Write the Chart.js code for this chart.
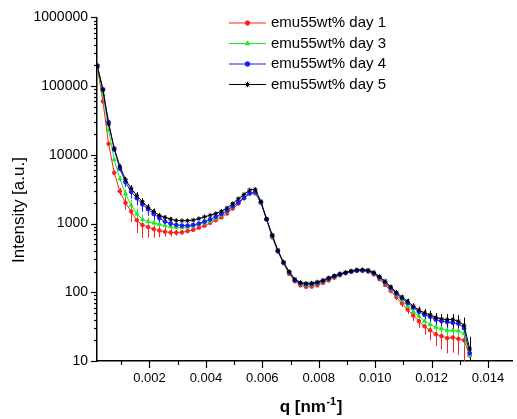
<!DOCTYPE html>
<html><head><meta charset="utf-8">
<script src="https://cdn.jsdelivr.net/npm/chart.js@4.4.0/dist/chart.umd.min.js"></script>
<style>html,body{margin:0;padding:0;background:#fff;}canvas{display:block;}</style>
</head><body>
<canvas id="c" width="517" height="419"></canvas>
<script>
// ---- data ----
const q = [0.00015,0.00035,0.00055,0.00075,0.00095,0.00115,0.00135,0.00155,0.00175,0.00195,
  0.00215,0.00235,0.00255,0.00275,0.00295,0.00315,0.00335,0.00355,0.00375,0.00395,
  0.00415,0.00435,0.00455,0.00475,0.00495,0.00515,0.00535,0.00555,0.00575,0.00595,
  0.00615,0.00635,0.00655,0.00675,0.00695,0.00715,0.00735,0.00755,0.00775,0.00795,
  0.00815,0.00835,0.00855,0.00875,0.00895,0.00915,0.00935,0.00955,0.00975,0.00995,
  0.01015,0.01035,0.01055,0.01075,0.01095,0.01115,0.01135,0.01155,0.01175,0.01195,
  0.01215,0.01235,0.01255,0.01275,0.01295,0.01315,0.01335];
const day1 = [190000,60000,14500,5500,2950,2000,1500,1120,950,890,
  830,790,760,740,740,745,775,810,870,930,
  1020,1120,1230,1400,1650,1950,2350,2750,2750,2000,
  1150,630,390,265,185,145,126,120,121,126,
  137,149,163,177,190,200,205,205,200,182,
  155,128,105,85,69,56,46,38,32,28,
  24.5,23,21.5,22,21,20,12];
const day3 = [190000,76000,23000,8500,4500,2700,1850,1380,1150,1070,
  1020,980,930,900,880,870,890,920,980,1020,
  1070,1200,1320,1500,1750,2040,2400,2800,2820,2000,
  1150,650,400,270,193,150,131,126,127,132,
  143,155,167,180,192,200,208,208,203,187,
  162,135,112,92,76,63,52,45,38,34,
  31,29.5,28,28,27.5,25,12];
const day4 = [200000,90000,30000,12000,6300,4000,2900,2350,1900,1620,
  1380,1200,1070,1000,955,935,935,955,1000,1070,
  1150,1260,1380,1550,1780,2040,2350,2750,2880,2050,
  1150,670,400,270,196,150,135,131,132,137,
  146,158,170,182,191,200,207,208,204,190,
  165,140,116,96,82,70,60,52,47,44,
  40,38,37,36,35,30,13];
const day5 = [195000,88000,28000,12500,6800,4350,3250,2550,2080,1730,
  1500,1310,1230,1160,1110,1100,1100,1120,1180,1250,
  1320,1400,1510,1690,1950,2300,2650,3080,3150,2100,
  1170,680,410,275,200,155,139,135,136,141,
  150,162,174,186,195,204,212,213,210,195,
  170,145,120,100,85,74,63,55,50,47,
  43,41,40,40,38,33,15];
// relative error (fraction of the value) of each point
const err1 = [0.03,0.03,0.05,0.08,0.12,0.2,0.3,0.35,0.35,0.3,
  0.25,0.2,0.15,0.12,0.1,0.08,0.06,0.05,0.04,0.04,
  0.03,0.03,0.03,0.03,0.03,0.03,0.03,0.03,0.03,0.03,
  0.03,0.03,0.03,0.03,0.03,0.04,0.04,0.05,0.05,0.05,
  0.05,0.05,0.05,0.05,0.05,0.05,0.05,0.05,0.05,0.05,
  0.06,0.07,0.08,0.1,0.12,0.14,0.17,0.2,0.24,0.28,
  0.32,0.36,0.4,0.4,0.42,0.5,0.6];
const err3 = [0.03,0.03,0.04,0.06,0.1,0.15,0.2,0.2,0.18,0.15,
  0.12,0.1,0.08,0.07,0.06,0.05,0.04,0.04,0.03,0.03,
  0.03,0.03,0.03,0.03,0.03,0.03,0.03,0.03,0.03,0.03,
  0.03,0.03,0.03,0.03,0.03,0.03,0.04,0.04,0.04,0.04,
  0.04,0.04,0.04,0.04,0.04,0.04,0.04,0.04,0.04,0.04,
  0.05,0.06,0.07,0.08,0.1,0.12,0.14,0.16,0.18,0.2,
  0.22,0.24,0.25,0.26,0.28,0.35,0.5];
const err4 = [0.03,0.03,0.04,0.06,0.1,0.15,0.2,0.22,0.22,0.2,
  0.18,0.15,0.12,0.1,0.08,0.06,0.05,0.04,0.03,0.03,
  0.03,0.03,0.03,0.03,0.03,0.03,0.03,0.03,0.03,0.03,
  0.03,0.03,0.03,0.03,0.03,0.03,0.03,0.03,0.03,0.03,
  0.04,0.04,0.04,0.04,0.04,0.04,0.04,0.04,0.04,0.04,
  0.04,0.05,0.06,0.07,0.08,0.09,0.1,0.12,0.14,0.15,
  0.16,0.18,0.2,0.2,0.22,0.3,0.5];
const err5 = [0.03,0.03,0.04,0.05,0.07,0.1,0.12,0.12,0.12,0.1,
  0.1,0.08,0.07,0.06,0.05,0.04,0.04,0.03,0.03,0.03,
  0.03,0.03,0.03,0.03,0.03,0.03,0.03,0.03,0.03,0.03,
  0.03,0.03,0.03,0.03,0.03,0.03,0.03,0.03,0.03,0.03,
  0.03,0.03,0.03,0.03,0.03,0.03,0.03,0.03,0.03,0.03,
  0.04,0.05,0.06,0.07,0.08,0.09,0.1,0.12,0.14,0.15,
  0.16,0.18,0.2,0.2,0.22,0.3,0.5];
const seriesLabels = ['emu55wt% day 1','emu55wt% day 3','emu55wt% day 4','emu55wt% day 5'];
const xMajor = [0.002,0.004,0.006,0.008,0.010,0.012,0.014];
const xTickLabels = ['0.002','0.004','0.006','0.008','0.010','0.012','0.014'];
const xMinor = [0.001,0.003,0.005,0.007,0.009,0.011,0.013];
const yTickValues = [10,100,1000,10000,100000,1000000];
const yTickLabels = ['10','100','1000','10000','100000','1000000'];
const xTitle = ['q [nm', '-1', ']'];
const yTitle = 'Intensity [a.u.]';

// ---- styles ----
const FONT = '"Liberation Sans", Arial, sans-serif';
const styles = [
  {color:'#ff1f1f', pointStyle:'circle', radius:1.8, order:4},
  {color:'#1fe81f', pointStyle:'triangle', radius:2.2, order:3},
  {color:'#1a1aff', pointStyle:'circle', radius:1.9, order:2},
  {color:'#000000', pointStyle:'star', radius:2.3, order:1}
];
const seriesValues = [day1, day3, day4, day5];
const seriesErrors = [err1, err3, err4, err5];

const datasets = seriesValues.map((vals, i) => ({
  label: seriesLabels[i],
  data: q.map((x, k) => ({x: x, y: vals[k], e: seriesErrors[i][k]})),
  borderColor: styles[i].color,
  backgroundColor: styles[i].color,
  pointBorderColor: styles[i].color,
  pointBackgroundColor: styles[i].color,
  pointStyle: styles[i].pointStyle,
  pointRadius: styles[i].radius,
  pointBorderWidth: 1,
  borderWidth: 1,
  tension: 0,
  order: styles[i].order
}));

const near = (a, b) => Math.abs(a - b) < 1e-9;
const isMajorX = v => xMajor.some(m => near(m, v));
const yAll = [];
yTickValues.forEach((d, i) => {
  yAll.push(d);
  if (i < yTickValues.length - 1) for (let m = 2; m <= 9; m++) yAll.push(d * m);
});

const errorBars = {
  id: 'errorBars',
  beforeDatasetsDraw(chart) {
    const ctx = chart.ctx, xs = chart.scales.x, ys = chart.scales.y, a = chart.chartArea;
    ctx.save();
    ctx.beginPath(); ctx.rect(a.left, a.top, a.right - a.left, a.bottom - a.top); ctx.clip();
    ctx.lineWidth = 1;
    [0, 1, 2, 3].forEach(i => {
      const ds = chart.data.datasets[i];
      ctx.strokeStyle = ds.borderColor;
      ds.data.forEach(p => {
        const px = Math.round(xs.getPixelForValue(p.x)) + 0.5;
        const hi = ys.getPixelForValue(p.y * (1 + p.e));
        const lo = ys.getPixelForValue(Math.max(p.y * (1 - p.e), 1));
        ctx.beginPath(); ctx.moveTo(px, hi); ctx.lineTo(px, lo); ctx.stroke();
      });
    });
    ctx.restore();
  }
};

const decor = {
  id: 'decor',
  afterDraw(chart) {
    const ctx = chart.ctx, xs = chart.scales.x, ys = chart.scales.y, a = chart.chartArea;
    ctx.save();
    ctx.strokeStyle = '#000';
    ctx.lineWidth = 1.2;
    xs.ticks.forEach(t => {
      const px = Math.round(xs.getPixelForValue(t.value)) + 0.5;
      const len = isMajorX(t.value) ? 7 : 4;
      ctx.beginPath(); ctx.moveTo(px, a.bottom); ctx.lineTo(px, a.bottom + len); ctx.stroke();
    });
    ys.ticks.forEach(t => {
      const py = Math.round(ys.getPixelForValue(t.value)) + 0.5;
      const len = yTickValues.includes(t.value) ? 6 : 3;
      ctx.beginPath(); ctx.moveTo(a.left, py); ctx.lineTo(a.left - len, py); ctx.stroke();
    });
    // y title
    ctx.fillStyle = '#000';
    ctx.font = '17px ' + FONT;
    ctx.textAlign = 'center'; ctx.textBaseline = 'middle';
    ctx.save(); ctx.translate(19, 210); ctx.rotate(-Math.PI / 2); ctx.fillText(yTitle, 0, 0); ctx.restore();
    // x title with superscript
    const bold = 'bold 17px ' + FONT, sup = 'bold 11px ' + FONT;
    ctx.textAlign = 'left'; ctx.textBaseline = 'alphabetic';
    ctx.font = bold; const w0 = ctx.measureText(xTitle[0]).width, w2 = ctx.measureText(xTitle[2]).width;
    ctx.font = sup; const w1 = ctx.measureText(xTitle[1]).width;
    let x0 = 311 - (w0 + w1 + w2 + 1) / 2; const base = 412;
    ctx.font = bold; ctx.fillText(xTitle[0], x0, base);
    ctx.font = sup; ctx.fillText(xTitle[1], x0 + w0 + 0.5, base - 7);
    ctx.font = bold; ctx.fillText(xTitle[2], x0 + w0 + w1 + 1, base);
    // legend
    chart.data.datasets.forEach((ds, i) => {
      const y = 23 + i * 20.5;
      ctx.strokeStyle = ds.borderColor; ctx.lineWidth = 1;
      ctx.beginPath(); ctx.moveTo(229, y); ctx.lineTo(266, y); ctx.stroke();
      ctx.fillStyle = ds.pointBackgroundColor; ctx.strokeStyle = ds.pointBorderColor;
      Chart.helpers.drawPoint(ctx, {pointStyle: ds.pointStyle, radius: ds.pointRadius + 0.4, rotation: 0, borderWidth: 1}, 247.5, y);
      ctx.fillStyle = '#000'; ctx.font = '15px ' + FONT; ctx.textAlign = 'left'; ctx.textBaseline = 'middle';
      ctx.fillText(ds.label, 271, y);
    });
    ctx.restore();
  }
};

new Chart(document.getElementById('c'), {
  type: 'line',
  data: {datasets},
  options: {
    responsive: false,
    animation: false,
    devicePixelRatio: 1,
    layout: {padding: {top: 16, right: 0, left: 0, bottom: 0}},
    plugins: {legend: {display: false}, tooltip: {enabled: false}},
    scales: {
      x: {
        type: 'linear', min: 0.00014, max: 0.01485,
        afterBuildTicks: s => { s.ticks = [...xMinor, ...xMajor].sort((a, b) => a - b).map(v => ({value: v})); },
        afterFit: s => { s.height = 58; },
        grid: {display: false, drawTicks: false},
        border: {display: true, color: '#000', width: 1.5},
        ticks: {autoSkip: false, maxRotation: 0, padding: 10, color: '#000', font: {family: FONT, size: 13},
          callback: v => { const i = xMajor.findIndex(m => near(m, v)); return i >= 0 ? xTickLabels[i] : ''; }}
      },
      y: {
        type: 'logarithmic', min: 10, max: 1000000,
        afterBuildTicks: s => { s.ticks = yAll.map(v => ({value: v})); },
        afterFit: s => { s.width = 97; },
        grid: {display: false, drawTicks: false},
        border: {display: true, color: '#000', width: 1.5},
        ticks: {autoSkip: false, padding: 9, color: '#000', font: {family: FONT, size: 14},
          callback: v => { const i = yTickValues.indexOf(v); return i >= 0 ? yTickLabels[i] : ''; }}
      }
    }
  },
  plugins: [errorBars, decor]
});
</script>
</body></html>
